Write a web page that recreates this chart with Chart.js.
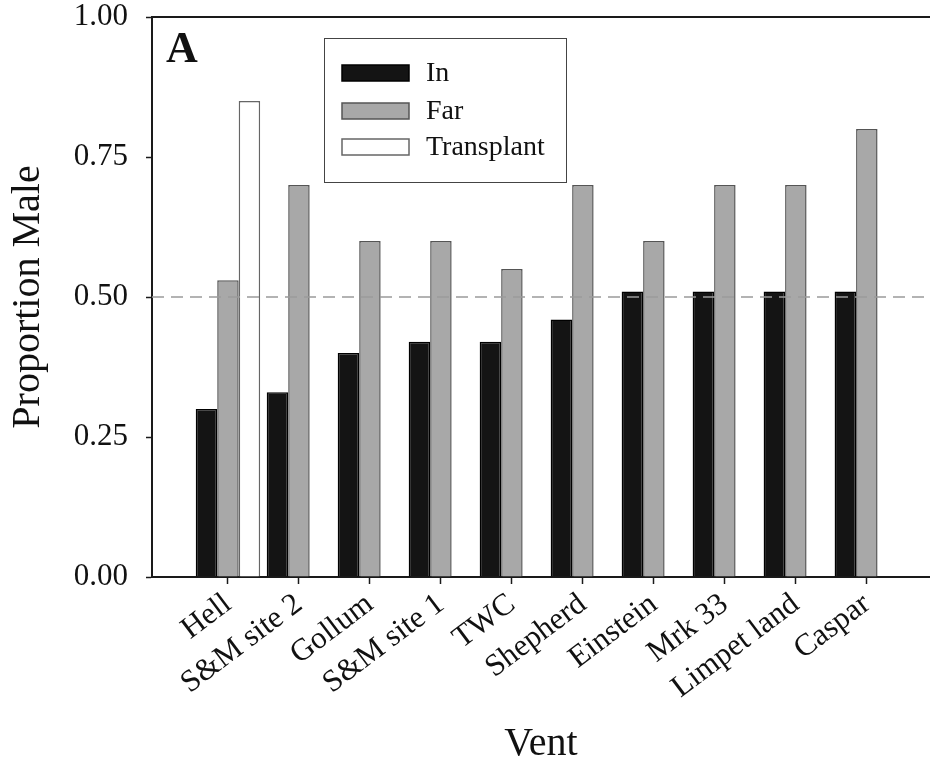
<!DOCTYPE html>
<html lang="en">
<head>
  <meta charset="UTF-8" />
  <title>Proportion Male by Vent</title>
  <script src="https://cdn.jsdelivr.net/npm/chart.js"></script>
  <style>
    html, body { margin: 0; padding: 0; background: #fff; }
    #chart-container { width: 930px; height: 769px; }
  </style>
</head>
<body>
  <div id="chart-container">
    <canvas id="chart"></canvas>
  </div>

  <script>
    const vents = ["Hell", "S&M site 2", "Gollum", "S&M site 1", "TWC", "Shepherd",
                   "Einstein", "Mrk 33", "Limpet land", "Caspar"];
    const inValues = [0.30, 0.33, 0.40, 0.42, 0.42, 0.46, 0.51, 0.51, 0.51, 0.51];
    const farValues = [0.53, 0.70, 0.60, 0.60, 0.55, 0.70, 0.60, 0.70, 0.70, 0.80];
    const transplantValues = [0.85, null, null, null, null, null, null, null, null, null];
    const yTicks = [0, 0.25, 0.5, 0.75, 1];
    const refLine = 0.5;

    const serif = "'Liberation Serif', 'Times New Roman', serif";
    const ink = '#1a1a1a';

    const toPoints = vals => vals.map((v, i) => ({ x: i + 1, y: v }));

    // dashed 0.5 line, frame top, panel letter and boxed legend
    const decorations = {
      id: 'decorations',
      afterDatasetsDraw(chart) {
        const { ctx, chartArea, scales } = chart;
        const y = scales.y.getPixelForValue(refLine);
        ctx.save();
        ctx.strokeStyle = '#9a9a9a';
        ctx.lineWidth = 1.5;
        ctx.setLineDash([12, 7]);
        ctx.beginPath();
        ctx.moveTo(chartArea.left, y);
        ctx.lineTo(chartArea.right, y);
        ctx.stroke();
        ctx.restore();
      },
      afterDraw(chart) {
        const { ctx, chartArea } = chart;
        ctx.save();
        ctx.strokeStyle = ink;
        ctx.lineWidth = 2;
        ctx.beginPath();
        ctx.moveTo(chartArea.left - 1, chartArea.top);
        ctx.lineTo(chartArea.right, chartArea.top);
        ctx.stroke();

        ctx.fillStyle = '#111';
        ctx.font = 'bold 44px ' + serif;
        ctx.textBaseline = 'alphabetic';
        ctx.fillText('A', 166, 62);

        // legend
        ctx.lineWidth = 1;
        ctx.strokeStyle = '#444';
        ctx.strokeRect(324.5, 38.5, 242, 144);
        const rows = [73, 111, 147];
        ctx.font = '28px ' + serif;
        ctx.textBaseline = 'middle';
        chart.data.datasets.forEach((ds, i) => {
          const cy = rows[i];
          ctx.fillStyle = ds.backgroundColor;
          ctx.fillRect(342, cy - 8, 67, 16);
          ctx.strokeStyle = ds.borderColor;
          ctx.lineWidth = 1.5;
          ctx.strokeRect(342, cy - 8, 67, 16);
          ctx.fillStyle = '#111';
          ctx.fillText(ds.label, 426, cy + 1);
        });
        ctx.restore();
      }
    };

    const ctx = document.getElementById('chart').getContext('2d');
    new Chart(ctx, {
      type: 'bar',
      data: {
        datasets: [
          { label: 'In', data: toPoints(inValues), backgroundColor: '#141414', borderColor: '#000', borderWidth: 1.5 },
          { label: 'Far', data: toPoints(farValues), backgroundColor: '#a8a8a8', borderColor: '#555', borderWidth: 1.5 },
          { label: 'Transplant', data: toPoints(transplantValues), backgroundColor: '#ffffff', borderColor: '#666', borderWidth: 1.5 }
        ]
      },
      options: {
        responsive: true,
        maintainAspectRatio: false,
        animation: false,
        categoryPercentage: 0.908,
        barPercentage: 1,
        layout: { padding: { top: 17, right: 0, bottom: 0, left: 0 } },
        plugins: {
          legend: { display: false },
          tooltip: { enabled: false }
        },
        scales: {
          x: {
            type: 'linear',
            offset: false,
            min: -0.07,
            max: 10.89,
            afterBuildTicks: scale => { scale.ticks = vents.map((v, i) => ({ value: i + 1 })); },
            afterFit: scale => { scale.height = 192; },
            border: { display: true, color: ink, width: 2 },
            grid: { offset: false, drawOnChartArea: false, drawTicks: true, tickLength: 7, tickColor: ink, tickWidth: 1.5 },
            ticks: {
              autoSkip: false,
              minRotation: 37,
              maxRotation: 37,
              padding: 2,
              color: '#111',
              font: { family: serif, size: 31 },
              callback: v => vents[v - 1]
            },
            title: {
              display: true,
              text: 'Vent',
              color: '#111',
              font: { family: serif, size: 40 },
              padding: { top: 0, bottom: 1 }
            }
          },
          y: {
            min: 0,
            max: 1,
            afterBuildTicks: scale => { scale.ticks = yTicks.map(v => ({ value: v })); },
            afterFit: scale => {
              scale.width = 152;
              scale.paddingTop = 0;
              scale.paddingBottom = 0;
            },
            border: { display: true, color: ink, width: 2 },
            grid: { drawOnChartArea: false, drawTicks: true, tickLength: 6, tickColor: ink, tickWidth: 1.5 },
            ticks: {
              padding: 18,
              color: '#111',
              font: { family: serif, size: 31 },
              callback: v => v.toFixed(2)
            },
            title: {
              display: true,
              text: 'Proportion Male',
              color: '#111',
              font: { family: serif, size: 40 },
              padding: { top: 4, bottom: 0 }
            }
          }
        }
      },
      plugins: [decorations]
    });
  </script>
</body>
</html>
